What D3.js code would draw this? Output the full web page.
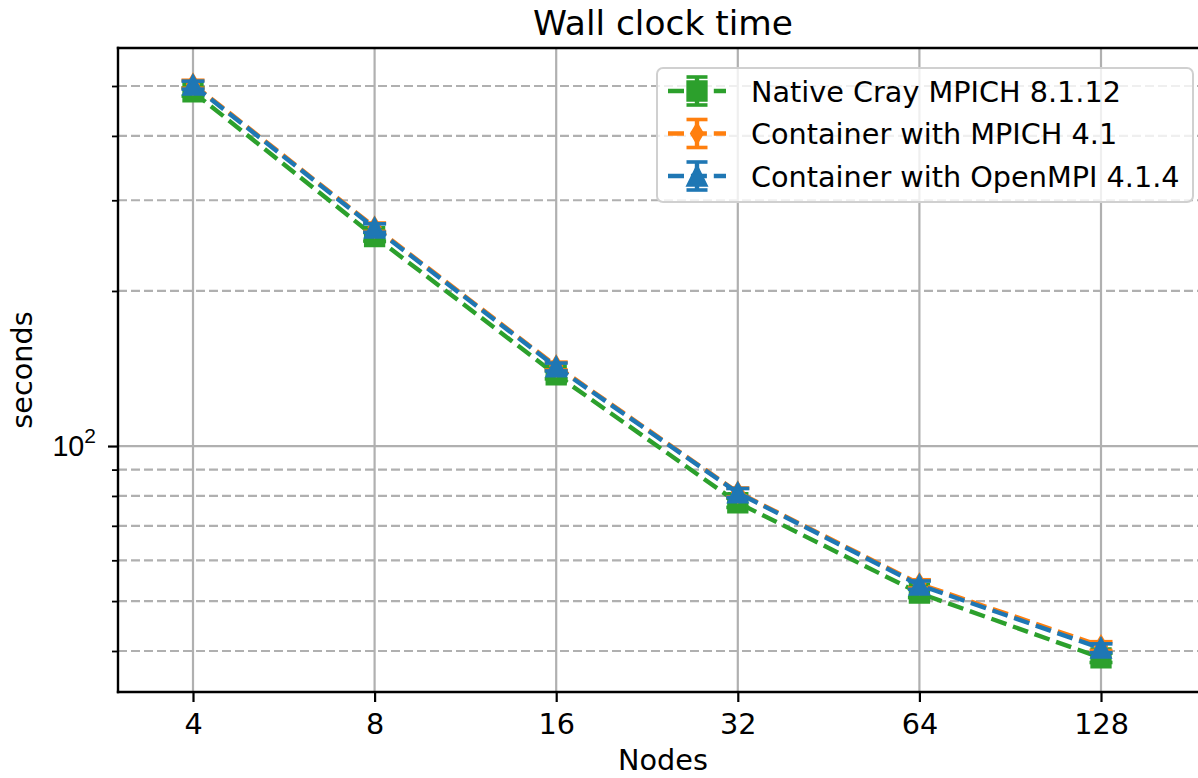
<!DOCTYPE html>
<html>
<head>
<meta charset="utf-8">
<script src="https://cdn.jsdelivr.net/npm/d3@7"></script>
<style>
  html, body { margin: 0; padding: 0; background: #fff; overflow: hidden; }
  svg { display: block; font-family: "DejaVu Sans", sans-serif; }
</style>
</head>
<body>
<svg id="chart" width="1198" height="778"></svg>
<script>
// ---- data ----
const nodes = [4, 8, 16, 32, 64, 128];
const nativeCray = [487, 255, 137.5, 77.6, 51.8, 38.8];
const nativeCrayErr = [9, 5, 2.5, 1.6, 1.0, 0.8];
const containerMpich = [504, 266, 143, 81.3, 54.0, 40.9];
const containerMpichErr = [9, 5, 2.5, 1.6, 1.0, 0.8];
const containerOpenmpi = [502, 265, 142.4, 81.1, 53.7, 40.5];
const containerOpenmpiErr = [9, 5, 2.5, 1.6, 1.0, 0.8];
const seriesNames = ["Native Cray MPICH 8.1.12", "Container with MPICH 4.1", "Container with OpenMPI 4.1.4"];
const seriesColors = ["#2ca02c", "#ff7f0e", "#1f77b4"];
const seriesMarkers = ["square", "thindiamond", "triangle"];
const yMajorTicks = [100];
const yMinorTicks = [40, 50, 60, 70, 80, 90, 200, 300, 400, 500];
const titleText = "Wall clock time";
const xLabel = "Nodes";
const yLabel = "seconds";

const series = [
  { name: seriesNames[0], values: nativeCray, err: nativeCrayErr, color: seriesColors[0], marker: seriesMarkers[0] },
  { name: seriesNames[1], values: containerMpich, err: containerMpichErr, color: seriesColors[1], marker: seriesMarkers[1] },
  { name: seriesNames[2], values: containerOpenmpi, err: containerOpenmpiErr, color: seriesColors[2], marker: seriesMarkers[2] }
];

// ---- layout ----
const pL = 118, pR = 1208, pT = 48, pB = 692;
const fs = 28.7;
const svg = d3.select("#chart");

const x = d3.scaleLog().base(2).domain([4, 128]).range([193, 1101]);
const y = d3.scaleLog().domain([40, 500]).range([651, 86]);

svg.append("defs").append("clipPath").attr("id", "plotclip")
  .append("rect").attr("x", pL).attr("y", pT).attr("width", pR - pL).attr("height", pB - pT);

// ---- grid ----
const grid = svg.append("g");
grid.selectAll(".xg").data(nodes).enter().append("line")
  .attr("x1", d => x(d)).attr("x2", d => x(d)).attr("y1", pT).attr("y2", pB)
  .attr("stroke", "#b0b0b0").attr("stroke-width", 2.2);
grid.selectAll(".ygM").data(yMajorTicks).enter().append("line")
  .attr("x1", pL).attr("x2", pR).attr("y1", d => y(d)).attr("y2", d => y(d))
  .attr("stroke", "#b0b0b0").attr("stroke-width", 2.2);
grid.selectAll(".ygm").data(yMinorTicks).enter().append("line")
  .attr("x1", pL).attr("x2", pR).attr("y1", d => y(d)).attr("y2", d => y(d))
  .attr("stroke", "#b0b0b0").attr("stroke-width", 2.2).attr("stroke-dasharray", "9,4");

// ---- markers ----
function markerPath(type, s) {
  const h = s / 2;
  if (type === "square") return `M${-h},${-h}L${h},${-h}L${h},${h}L${-h},${h}Z`;
  if (type === "triangle") return `M0,${-h}L${h},${h}L${-h},${h}Z`;
  if (type === "thindiamond") return `M0,${-h}L${h * 0.6},0L0,${h}L${-h * 0.6},0Z`;
  return "";
}

const plot = svg.append("g").attr("clip-path", "url(#plotclip)");
const line = d3.line().x((d, i) => x(nodes[i])).y(d => y(d));
const msize = 18.5;
const capW = 11.5;
const lw = 4.4;
const dash = "16,6.9";

series.forEach(s => {
  const g = plot.append("g");
  g.append("path").datum(s.values).attr("d", line)
    .attr("fill", "none").attr("stroke", s.color).attr("stroke-width", lw)
    .attr("stroke-dasharray", dash);
  s.values.forEach((v, i) => {
    const cx = x(nodes[i]);
    const y1 = y(v + s.err[i]), y2 = y(v - s.err[i]);
    g.append("line").attr("x1", cx).attr("x2", cx).attr("y1", y1).attr("y2", y2)
      .attr("stroke", s.color).attr("stroke-width", lw);
    [y1, y2].forEach(yy => g.append("line").attr("x1", cx - capW).attr("x2", cx + capW)
      .attr("y1", yy).attr("y2", yy).attr("stroke", s.color).attr("stroke-width", 3.6));
  });
  g.selectAll(".m").data(s.values).enter().append("path")
    .attr("transform", (d, i) => `translate(${x(nodes[i])},${y(d)})`)
    .attr("d", markerPath(s.marker, msize))
    .attr("fill", s.color).attr("stroke", s.color).attr("stroke-width", 2.8)
    .attr("stroke-linejoin", "miter");
});

// ---- spines ----
svg.append("line").attr("x1", pL).attr("x2", pL).attr("y1", pT).attr("y2", pB)
  .attr("stroke", "#000").attr("stroke-width", 2.4).attr("stroke-linecap", "square");
svg.append("line").attr("x1", pL).attr("x2", pR).attr("y1", pB).attr("y2", pB)
  .attr("stroke", "#000").attr("stroke-width", 2.4).attr("stroke-linecap", "square");
svg.append("line").attr("x1", pL).attr("x2", pR).attr("y1", pT).attr("y2", pT)
  .attr("stroke", "#000").attr("stroke-width", 2.4).attr("stroke-linecap", "square");

// ---- axes ----
const xAxis = d3.axisBottom(x).tickValues(nodes).tickFormat(d3.format("d")).tickSize(10).tickPadding(12);
const gx = svg.append("g").attr("transform", `translate(0,${pB})`).call(xAxis);
gx.select(".domain").remove();
gx.selectAll(".tick line").attr("stroke", "#000").attr("stroke-width", 2.2);
gx.selectAll(".tick text").attr("font-size", fs).attr("fill", "#000").attr("font-family", "DejaVu Sans");

const yAxisMajor = d3.axisLeft(y).tickValues(yMajorTicks).tickFormat("").tickSize(10);
const gy = svg.append("g").attr("transform", `translate(${pL},0)`).call(yAxisMajor);
gy.select(".domain").remove();
gy.selectAll(".tick line").attr("stroke", "#000").attr("stroke-width", 2.2);
gy.selectAll(".tick").each(function(d) {
  const t = d3.select(this).append("text").attr("x", -22).attr("y", 9)
    .attr("text-anchor", "end").attr("font-size", fs).attr("fill", "#000");
  const exp = Math.round(Math.log10(d));
  t.append("tspan").text("10");
  t.append("tspan").attr("font-size", 21).attr("dy", -13).text(exp);
});

const yAxisMinor = d3.axisLeft(y).tickValues(yMinorTicks).tickFormat("").tickSize(6);
const gym = svg.append("g").attr("transform", `translate(${pL},0)`).call(yAxisMinor);
gym.select(".domain").remove();
gym.selectAll(".tick line").attr("stroke", "#000").attr("stroke-width", 1.8);

// ---- labels ----
svg.append("text").attr("x", 663).attr("y", 35).attr("text-anchor", "middle")
  .attr("font-size", 34.4).attr("fill", "#000").text(titleText);
svg.append("text").attr("x", 663).attr("y", 770).attr("text-anchor", "middle")
  .attr("font-size", fs).attr("fill", "#000").text(xLabel);
svg.append("text").attr("transform", `translate(32,370) rotate(-90)`).attr("text-anchor", "middle")
  .attr("font-size", fs).attr("fill", "#000").text(yLabel);

// ---- legend ----
const lg = svg.append("g");
lg.append("rect").attr("x", 657).attr("y", 68).attr("width", 536).attr("height", 134)
  .attr("rx", 6).attr("fill", "#fff").attr("fill-opacity", 0.8)
  .attr("stroke", "#d0d0d0").attr("stroke-width", 2);
series.forEach((s, i) => {
  const cy = 91 + i * 42.5;
  const g = lg.append("g");
  g.append("line").attr("x1", 668).attr("x2", 726).attr("y1", cy).attr("y2", cy)
    .attr("stroke", s.color).attr("stroke-width", lw).attr("stroke-dasharray", dash);
  g.append("line").attr("x1", 697).attr("x2", 697).attr("y1", cy - 14).attr("y2", cy + 14)
    .attr("stroke", s.color).attr("stroke-width", lw);
  [cy - 14, cy + 14].forEach(yy => g.append("line").attr("x1", 697 - 10.5).attr("x2", 697 + 10.5)
    .attr("y1", yy).attr("y2", yy).attr("stroke", s.color).attr("stroke-width", 3.6));
  g.append("path").attr("transform", `translate(697,${cy})`).attr("d", markerPath(s.marker, msize))
    .attr("fill", s.color).attr("stroke", s.color).attr("stroke-width", 2.8);
  g.append("text").attr("x", 751).attr("y", cy + 10.5).attr("font-size", fs).attr("fill", "#000").text(s.name);
});
</script>
</body>
</html>
